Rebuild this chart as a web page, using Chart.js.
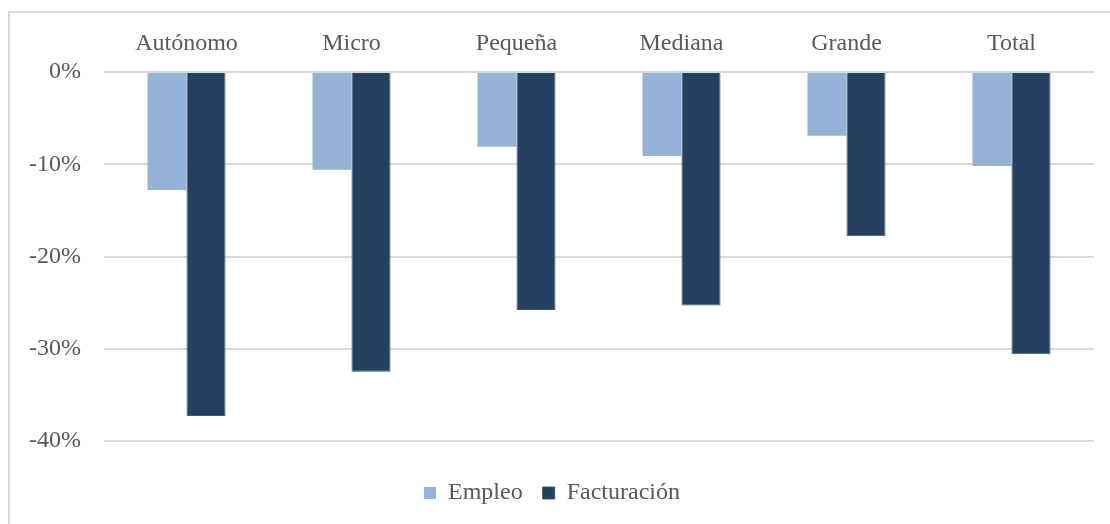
<!DOCTYPE html>
<html>
<head>
<meta charset="utf-8">
<script src="https://cdn.jsdelivr.net/npm/chart.js@4/dist/chart.umd.min.js"></script>
<style>
  html, body { margin: 0; padding: 0; background: #fff; }
  #wrap { position: relative; width: 1110px; height: 524px; overflow: hidden; }
  #frame { position: absolute; left: 8px; top: 11px; width: 1200px; height: 600px; border: 2px solid #d9d9d9; box-sizing: border-box; }
  canvas { position: absolute; left: 0; top: 0; }
</style>
</head>
<body>
<div id="wrap">
  <div id="frame"></div>
  <canvas id="c" width="1110" height="524"></canvas>
</div>
<script>
const categories = ['Autónomo', 'Micro', 'Pequeña', 'Mediana', 'Grande', 'Total'];
const empleo = [-12.8, -10.6, -8.1, -9.1, -6.9, -10.2];
const facturacion = [-37.3, -32.5, -25.8, -25.3, -17.8, -30.6];
const seriesNames = ['Empleo', 'Facturación'];
const yTicks = [0, -10, -20, -30, -40];

const FONT = "'Liberation Serif', 'DejaVu Serif', serif";
const TEXT = '#595959';

new Chart(document.getElementById('c'), {
  type: 'bar',
  data: {
    labels: categories,
    datasets: [
      { label: seriesNames[0], data: empleo, backgroundColor: '#95b3d7', borderWidth: 0 },
      { label: seriesNames[1], data: facturacion, backgroundColor: '#254061', borderColor: '#3b5676', borderWidth: 1 }
    ]
  },
  options: {
    responsive: false,
    animation: false,
    devicePixelRatio: 1,
    layout: { padding: { left: 10, right: 16, top: 14, bottom: 9 } },
    datasets: { bar: { categoryPercentage: 0.473, barPercentage: 1 } },
    plugins: {
      legend: {
        position: 'bottom',
        labels: {
          color: TEXT,
          font: { family: FONT, size: 24 },
          boxWidth: 12,
          boxHeight: 12,
          padding: 20
        }
      },
      tooltip: { enabled: false }
    },
    scales: {
      x: {
        position: 'top',
        grid: { display: false, drawTicks: false },
        border: { display: false },
        ticks: { color: TEXT, font: { family: FONT, size: 24 }, padding: 14, maxRotation: 0 },
        afterFit: s => { s.height = 58; }
      },
      xSpacer: {
        type: 'category',
        position: 'bottom',
        grid: { display: false, drawTicks: false },
        border: { display: false },
        ticks: { display: false },
        afterFit: s => { s.height = 20; }
      },
      y: {
        min: Math.min(...yTicks),
        max: Math.max(...yTicks),
        afterBuildTicks: s => { s.ticks = yTicks.map(v => ({ value: v })); },
        grid: { color: '#d9d9d9', lineWidth: 2, drawTicks: false },
        border: { display: false },
        ticks: {
          color: TEXT,
          font: { family: FONT, size: 24 },
          padding: 23,
          callback: v => v + '%'
        },
        afterFit: s => { s.width = 94; }
      }
    }
  }
});
</script>
</body>
</html>
